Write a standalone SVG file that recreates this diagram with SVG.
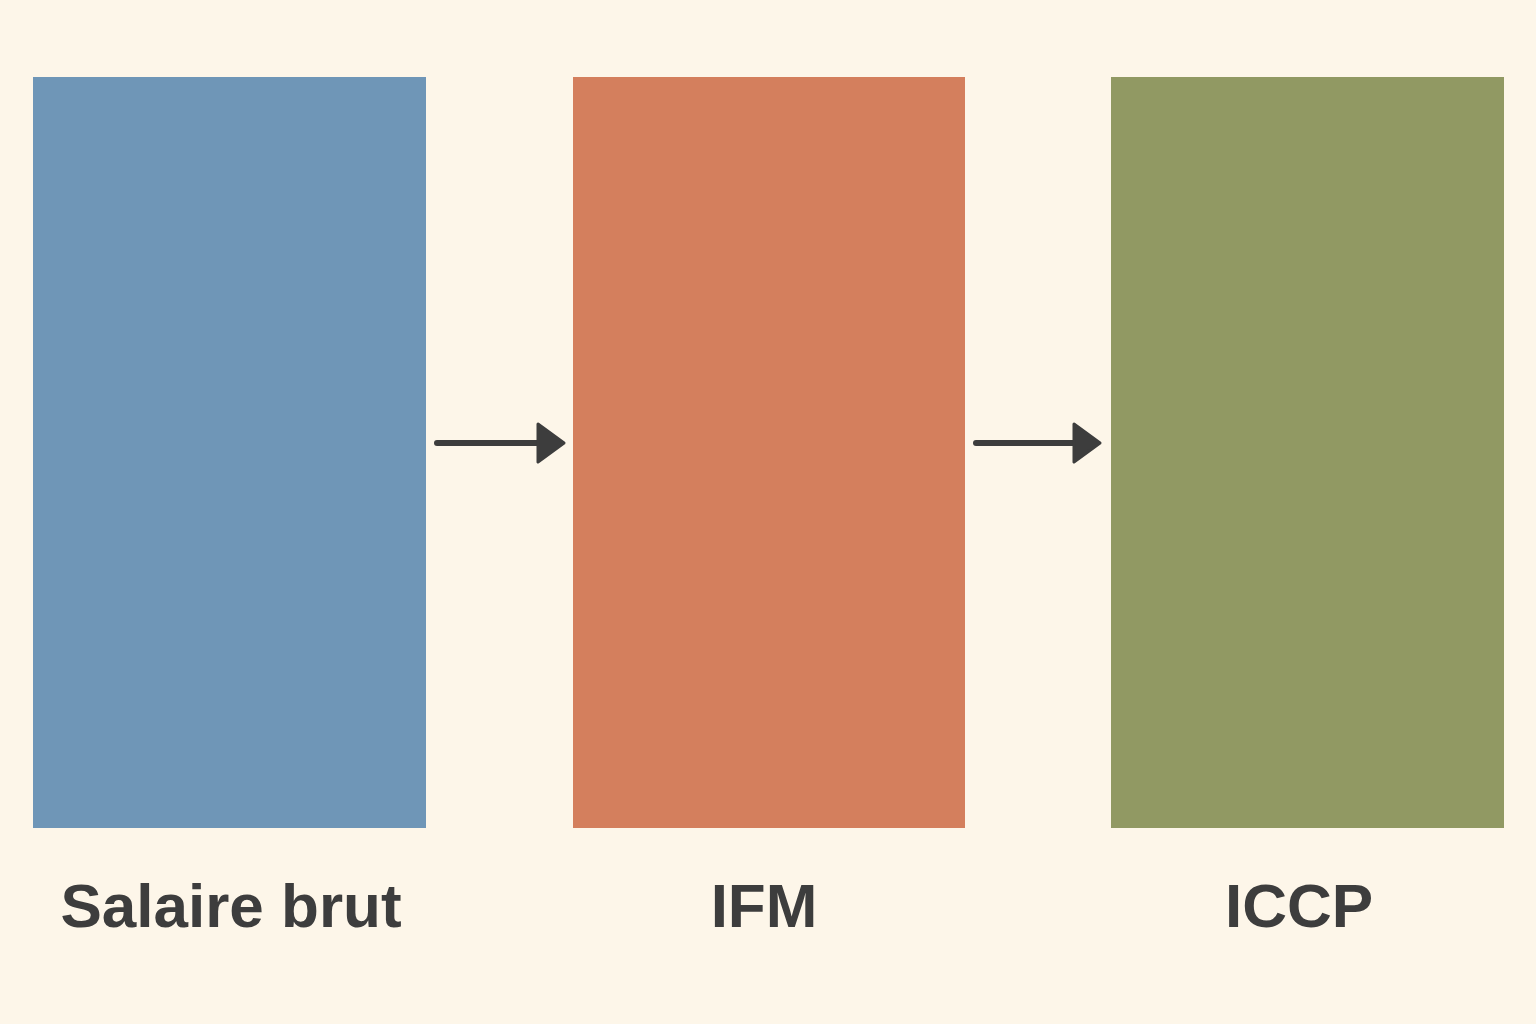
<svg xmlns="http://www.w3.org/2000/svg" width="1536" height="1024" viewBox="0 0 1536 1024">
<defs>
<style>
.box{stroke:none}
.lbl{font-family:"Liberation Sans",Arial,sans-serif;font-weight:bold;font-size:62px;fill:#3d3d3d;text-anchor:middle}
.conn line{stroke:#3d3d3d;stroke-width:6;stroke-linecap:round}
.conn polygon{fill:#3d3d3d;stroke:#3d3d3d;stroke-width:3;stroke-linejoin:round}
</style>
</defs>
<rect width="1536" height="1024" fill="#fdf6e9"/>
<g id="node-salaire">
<rect class="box" x="33" y="77" width="393" height="751" fill="#6f96b7"/>
<text class="lbl" x="231" y="927">Salaire brut</text>
</g>
<g id="node-ifm">
<rect class="box" x="573" y="77" width="392" height="751" fill="#d47f5d"/>
<text class="lbl" x="764" y="927">IFM</text>
</g>
<g id="node-iccp">
<rect class="box" x="1111" y="77" width="393" height="751" fill="#919963"/>
<text class="lbl" x="1299" y="927">ICCP</text>
</g>
<g id="connectors" class="conn">
<line x1="437" y1="443" x2="540" y2="443"/>
<polygon points="538,424 564,443 538,462"/>
<line x1="976" y1="443" x2="1076" y2="443"/>
<polygon points="1074,424 1100,443 1074,462"/>
</g>
</svg>
